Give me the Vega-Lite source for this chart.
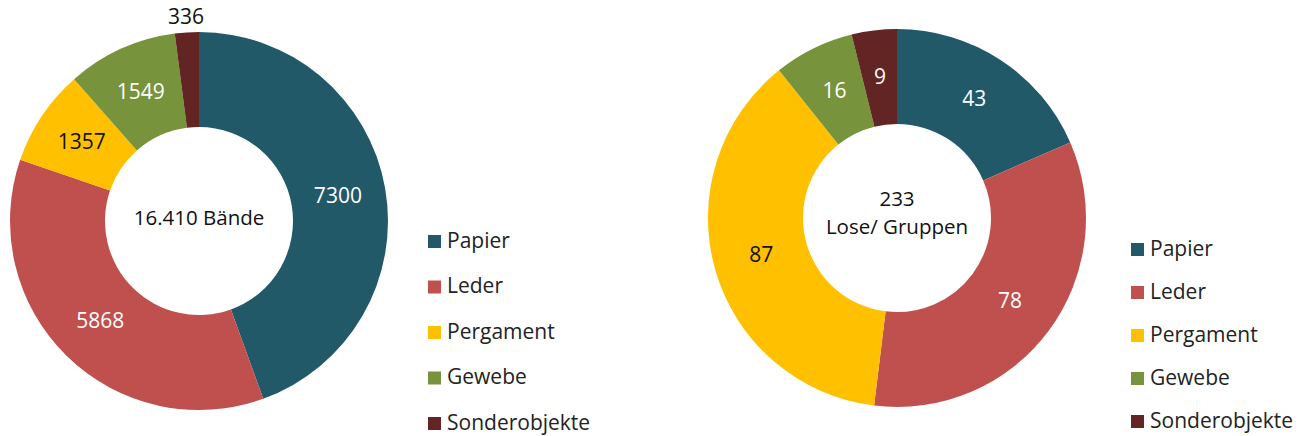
{
  "$schema": "https://vega.github.io/schema/vega-lite/v6.json",
  "width": 1308,
  "height": 436,
  "padding": 0,
  "autosize": {"type": "none"},
  "background": "white",
  "config": {"view": {"stroke": null}, "font": "Open Sans"},
  "datasets": {
    "werte": [
      {"Diagramm": "Bände", "Material": "Papier", "Nr": 1, "Wert": 7300},
      {"Diagramm": "Bände", "Material": "Leder", "Nr": 2, "Wert": 5868},
      {"Diagramm": "Bände", "Material": "Pergament", "Nr": 3, "Wert": 1357},
      {"Diagramm": "Bände", "Material": "Gewebe", "Nr": 4, "Wert": 1549},
      {"Diagramm": "Bände", "Material": "Sonderobjekte", "Nr": 5, "Wert": 336},
      {"Diagramm": "Lose", "Material": "Papier", "Nr": 1, "Wert": 43},
      {"Diagramm": "Lose", "Material": "Leder", "Nr": 2, "Wert": 78},
      {"Diagramm": "Lose", "Material": "Pergament", "Nr": 3, "Wert": 87},
      {"Diagramm": "Lose", "Material": "Gewebe", "Nr": 4, "Wert": 16},
      {"Diagramm": "Lose", "Material": "Sonderobjekte", "Nr": 5, "Wert": 9}
    ],
    "mitte": [
      {"Diagramm": "Bände", "Titel": ["16.410 Bände"]},
      {"Diagramm": "Lose", "Titel": ["233", "Lose/ Gruppen"]}
    ]
  },
  "encoding": {
    "x": {"field": "Diagramm", "type": "nominal", "scale": {"type": "point", "domain": ["Bände", "Lose"], "range": [199, 897], "padding": 0}, "axis": null},
    "y": {"field": "Diagramm", "type": "nominal", "scale": {"type": "point", "domain": ["Bände", "Lose"], "range": [221, 218], "padding": 0}, "axis": null}
  },
  "layer": [
    {
      "data": {"name": "werte"},
      "transform": [{"filter": "datum.Diagramm === 'Bände'"}],
      "mark": {"type": "arc", "outerRadius": 189, "innerRadius": 94},
      "encoding": {
        "theta": {"field": "Wert", "type": "quantitative", "stack": "normalize"},
        "order": {"field": "Nr", "type": "quantitative"},
        "color": {
          "field": "Material", "type": "nominal",
          "scale": {"domain": ["Papier", "Leder", "Pergament", "Gewebe", "Sonderobjekte"], "range": ["#215968", "#C0504D", "#FFC000", "#77933C", "#632523"]},
          "legend": {"title": null, "orient": "none", "legendX": 424, "legendY": 231, "padding": 0, "symbolType": "square", "symbolSize": 169, "symbolStrokeWidth": 0, "symbolOpacity": 1, "labelFont": "Open Sans", "labelFontSize": 21, "labelColor": "#222222", "labelOffset": 2, "rowPadding": 23.5}
        }
      }
    },
    {
      "data": {"name": "werte"},
      "transform": [{"filter": "datum.Diagramm === 'Lose'"}],
      "mark": {"type": "arc", "outerRadius": 189, "innerRadius": 94},
      "encoding": {
        "theta": {"field": "Wert", "type": "quantitative", "stack": "normalize"},
        "order": {"field": "Nr", "type": "quantitative"},
        "color": {
          "field": "Material", "type": "nominal",
          "scale": {"domain": ["Papier", "Leder", "Pergament", "Gewebe", "Sonderobjekte"], "range": ["#215968", "#C0504D", "#FFC000", "#77933C", "#632523"]},
          "legend": {"title": null, "orient": "none", "legendX": 1127, "legendY": 239, "padding": 0, "symbolType": "square", "symbolSize": 169, "symbolStrokeWidth": 0, "symbolOpacity": 1, "labelFont": "Open Sans", "labelFontSize": 21, "labelColor": "#222222", "labelOffset": 2, "rowPadding": 21}
        }
      }
    },
    {
      "data": {"name": "werte"},
      "transform": [{"filter": "datum.Diagramm === 'Bände'"}],
      "mark": {"type": "text", "radius": 141, "fontSize": 21, "align": "center", "baseline": "middle"},
      "encoding": {
        "theta": {"field": "Wert", "type": "quantitative", "stack": "normalize"},
        "order": {"field": "Nr", "type": "quantitative"},
        "text": {"condition": {"test": "datum.Material === 'Sonderobjekte'", "value": ""}, "field": "Wert", "type": "quantitative", "format": "d"},
        "color": {"condition": {"test": "datum.Material === 'Pergament'", "value": "#111111"}, "value": "#ffffff"}
      }
    },
    {
      "data": {"name": "werte"},
      "transform": [{"filter": "datum.Diagramm === 'Bände'"}],
      "mark": {"type": "text", "radius": 203, "fontSize": 21, "align": "center", "baseline": "middle"},
      "encoding": {
        "theta": {"field": "Wert", "type": "quantitative", "stack": "normalize"},
        "order": {"field": "Nr", "type": "quantitative"},
        "text": {"condition": {"test": "datum.Material !== 'Sonderobjekte'", "value": ""}, "field": "Wert", "type": "quantitative", "format": "d"},
        "color": {"value": "#111111"}
      }
    },
    {
      "data": {"name": "werte"},
      "transform": [{"filter": "datum.Diagramm === 'Lose'"}],
      "mark": {"type": "text", "radius": 141, "fontSize": 21, "align": "center", "baseline": "middle"},
      "encoding": {
        "theta": {"field": "Wert", "type": "quantitative", "stack": "normalize"},
        "order": {"field": "Nr", "type": "quantitative"},
        "text": {"field": "Wert", "type": "quantitative", "format": "d"},
        "color": {"condition": {"test": "datum.Material === 'Pergament'", "value": "#111111"}, "value": "#ffffff"}
      }
    },
    {
      "data": {"name": "mitte"},
      "transform": [{"filter": "datum.Diagramm === 'Bände'"}],
      "mark": {"type": "text", "fontSize": 20.5, "align": "center", "baseline": "middle", "dy": -2, "color": "#111111"},
      "encoding": {
        "text": {"field": "Titel"}
      }
    },
    {
      "data": {"name": "mitte"},
      "transform": [{"filter": "datum.Diagramm === 'Lose'"}],
      "mark": {"type": "text", "fontSize": 20.5, "align": "center", "baseline": "middle", "lineHeight": 28, "dy": -18, "color": "#111111"},
      "encoding": {
        "text": {"field": "Titel"}
      }
    }
  ],
  "resolve": {"scale": {"color": "independent"}, "legend": {"color": "independent"}}
}
